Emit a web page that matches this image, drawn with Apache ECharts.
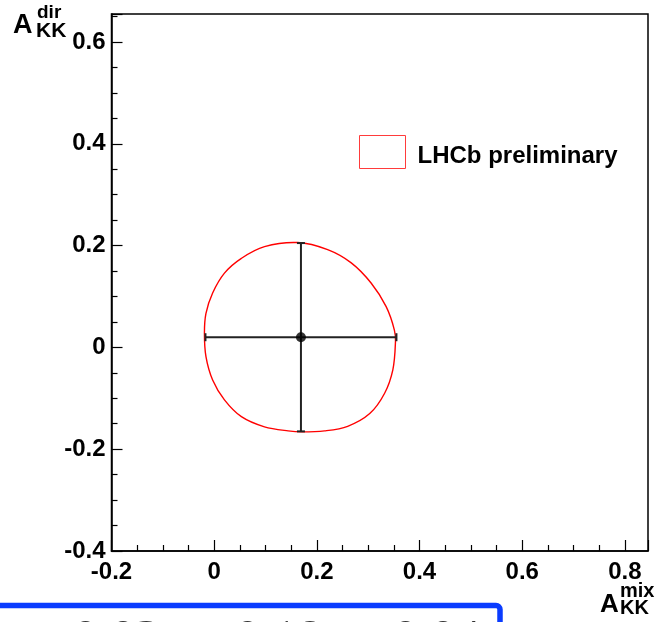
<!DOCTYPE html>
<html>
<head>
<meta charset="utf-8">
<script src="https://cdn.jsdelivr.net/npm/echarts@6/dist/echarts.min.js"></script>
<style>html,body{margin:0;padding:0;background:#fff;}#c{width:658px;height:622px;}</style>
</head>
<body>
<div id="c"></div>
<script>
// Measurement (A_KK^mix, A_KK^dir) with total uncertainties
var pointX = [0.169];
var pointY = [0.020];
var errX = [0.186];
var errY = [0.185];

// Red contour (x = A_KK^mix, y = A_KK^dir), closed loop
var contourX = [0.163,0.098,0.053,0.020,-0.003,-0.016,-0.019,-0.016,-0.003,0.020,0.053,0.098,0.144,0.171,0.215,0.260,0.303,0.332,0.348,0.353,0.351,0.335,0.306,0.267,0.221];
var contourY = [0.206,0.198,0.175,0.146,0.107,0.067,0.028,-0.018,-0.064,-0.103,-0.136,-0.156,-0.164,-0.166,-0.164,-0.155,-0.130,-0.090,-0.044,0.008,0.034,0.080,0.126,0.166,0.192];

var xTickLabels = ['-0.2','0','0.2','0.4','0.6','0.8'];
var yTickLabels = ['-0.4','-0.2','0','0.2','0.4','0.6'];
var legendName = 'LHCb preliminary';
var resultText = ['0.02', '\u00b1', '0.18', '\u00b1', '0.04'];

var contourData = contourX.map(function (x, i) { return [x, contourY[i]]; });
var pointData = pointX.map(function (x, i) { return [x, pointY[i], errX[i], errY[i]]; });

function fmt(list) {
  return function (v) {
    if (Math.abs(v * 5 - Math.round(v * 5)) > 1e-6) return '';
    var s = (Math.round(v * 10) / 10).toString();
    return list.indexOf(s) >= 0 ? s : '';
  };
}

var F = 'Liberation Sans, Arial, Helvetica, sans-serif';
var chart = echarts.init(document.getElementById('c'));
var axisCommon = {
  type: 'value',
  interval: 0.2,
  axisLine: { show: true, onZero: false, lineStyle: { color: '#000', width: 1.5 } },
  axisTick: { show: true, inside: true, length: 11, lineStyle: { color: '#000', width: 1.2 } },
  minorTick: { show: true, splitNumber: 4, length: 6, lineStyle: { color: '#000', width: 1.2 } },
  splitLine: { show: false },
  minorSplitLine: { show: false },
  axisLabel: { fontFamily: F, fontWeight: 'bold', fontSize: 24, color: '#000', showMaxLabel: false }
};

var option = {
  animation: false,
  backgroundColor: '#fff',
  grid: { left: 111.5, right: 10, top: 14, bottom: 71, show: true, borderColor: '#000', borderWidth: 1.5, backgroundColor: 'transparent' },
  xAxis: echarts.util.merge({
    min: -0.2, max: 0.845,
    axisLabel: { margin: 9, formatter: fmt(xTickLabels) }
  }, axisCommon),
  yAxis: echarts.util.merge({
    min: -0.4, max: 0.655,
    axisLabel: { margin: 6, formatter: fmt(yTickLabels) }
  }, axisCommon),
  legend: {
    left: 359, top: 135, padding: 0,
    itemWidth: 46, itemHeight: 33,
    icon: 'rect',
    itemStyle: { color: 'rgba(0,0,0,0)', borderColor: '#ff3b3b', borderWidth: 1 },
    formatter: '{t|{name}}',
    textStyle: {
      fontFamily: F, fontWeight: 'bold', fontSize: 24, color: '#000', padding: [0, 0, 0, 7],
      rich: { t: { fontFamily: F, fontWeight: 'bold', fontSize: 24, color: '#000', padding: [9, 0, 0, 0] } }
    },
    data: [{ name: legendName }]
  },
  series: [
    {
      name: legendName,
      type: 'custom',
      data: contourData,
      encode: { x: 0, y: 1 },
      itemStyle: { color: '#ff0000' },
      renderItem: function (params, api) {
        if (params.dataIndex !== 0) return null;
        var p = contourData.map(function (d) { return api.coord(d); });
        var n = p.length;
        var d = 'M' + p[0][0] + ' ' + p[0][1];
        for (var i = 0; i < n; i++) {
          var p0 = p[(i - 1 + n) % n], p1 = p[i], p2 = p[(i + 1) % n], p3 = p[(i + 2) % n];
          var c1x = p1[0] + (p2[0] - p0[0]) / 6, c1y = p1[1] + (p2[1] - p0[1]) / 6;
          var c2x = p2[0] - (p3[0] - p1[0]) / 6, c2y = p2[1] - (p3[1] - p1[1]) / 6;
          d += ' C' + c1x + ' ' + c1y + ' ' + c2x + ' ' + c2y + ' ' + p2[0] + ' ' + p2[1];
        }
        d += ' Z';
        return { type: 'path', shape: { pathData: d }, style: { fill: 'none', stroke: '#ff0000', lineWidth: 1.4 } };
      },
      z: 2
    },
    {
      type: 'custom',
      data: pointData,
      encode: { x: 0, y: 1 },
      renderItem: function (params, api) {
        var x = api.value(0), y = api.value(1), ex = api.value(2), ey = api.value(3);
        var l = api.coord([x - ex, y]), r = api.coord([x + ex, y]);
        var t = api.coord([x, y + ey]), b = api.coord([x, y - ey]);
        var cap = 4;
        var st = { stroke: '#222', lineWidth: 2 };
        return {
          type: 'group',
          children: [
            { type: 'line', shape: { x1: l[0], y1: l[1], x2: r[0], y2: r[1] }, style: st },
            { type: 'line', shape: { x1: t[0], y1: t[1], x2: b[0], y2: b[1] }, style: st },
            { type: 'line', shape: { x1: l[0], y1: l[1] - cap, x2: l[0], y2: l[1] + cap }, style: st },
            { type: 'line', shape: { x1: r[0], y1: r[1] - cap, x2: r[0], y2: r[1] + cap }, style: st },
            { type: 'line', shape: { x1: t[0] - cap, y1: t[1], x2: t[0] + cap, y2: t[1] }, style: st },
            { type: 'line', shape: { x1: b[0] - cap, y1: b[1], x2: b[0] + cap, y2: b[1] }, style: st }
          ]
        };
      },
      z: 3
    },
    {
      type: 'scatter',
      data: pointData.map(function (d) { return [d[0], d[1]]; }),
      symbol: 'circle',
      symbolSize: 10,
      itemStyle: { color: '#000' },
      z: 4
    }
  ],
  graphic: [
    { type: 'text', style: { text: 'A', x: 13, y: 26, verticalAlign: 'middle', font: 'bold 27px ' + F, fill: '#000' } },
    { type: 'text', style: { text: 'dir', x: 37, y: 13, verticalAlign: 'middle', font: 'bold 19px ' + F, fill: '#000' } },
    { type: 'text', style: { text: 'KK', x: 36, y: 31, verticalAlign: 'middle', font: 'bold 21px ' + F, fill: '#000' } },
    { type: 'text', style: { text: 'A', x: 600, y: 605, verticalAlign: 'middle', font: 'bold 26px ' + F, fill: '#000' } },
    { type: 'text', style: { text: 'mix', x: 620, y: 591, verticalAlign: 'middle', font: 'bold 20px ' + F, fill: '#000' } },
    { type: 'text', style: { text: 'KK', x: 620, y: 608, verticalAlign: 'middle', font: 'bold 20px ' + F, fill: '#000' } },
    { type: 'rect', shape: { x: -20, y: 605.5, width: 520, height: 60, r: 4 }, style: { fill: 'rgba(0,0,0,0)', stroke: '#0a3cff', lineWidth: 5.5 } },
    { type: 'text', style: { text: resultText[0], x: 73, y: 641, verticalAlign: 'middle', font: '50px Liberation Serif, serif', fill: '#333' } },
    { type: 'text', style: { text: resultText[1], x: 198, y: 641, align: 'center', verticalAlign: 'middle', font: '50px Liberation Serif, serif', fill: '#333' } },
    { type: 'text', style: { text: resultText[2], x: 235, y: 641, verticalAlign: 'middle', font: '50px Liberation Serif, serif', fill: '#333' } },
    { type: 'text', style: { text: resultText[3], x: 357, y: 641, align: 'center', verticalAlign: 'middle', font: '50px Liberation Serif, serif', fill: '#333' } },
    { type: 'text', style: { text: resultText[4], x: 393, y: 641, verticalAlign: 'middle', font: '50px Liberation Serif, serif', fill: '#333' } }
  ]
};
chart.setOption(option);
</script>
</body>
</html>
